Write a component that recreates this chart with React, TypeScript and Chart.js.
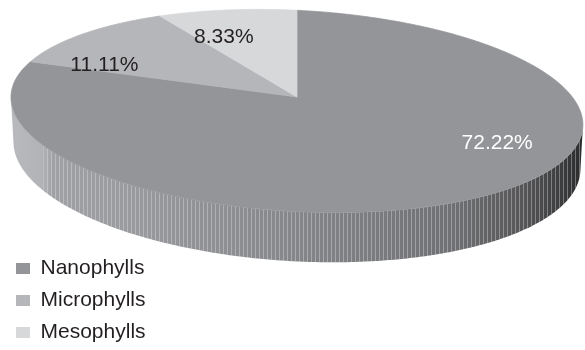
import React, { useEffect, useRef } from 'react';
import { Chart, registerables } from 'chart.js';

Chart.register(...registerables);

// ---- data ----
const categories: string[] = ['Nanophylls', 'Microphylls', 'Mesophylls'];
const percentages: number[] = [72.22, 11.11, 8.33];

// ---- styles ----
const sliceColors: string[] = ['#949598', '#b5b6b9', '#d7d8da'];
const labelColors: string[] = ['#ffffff', '#231f20', '#231f20'];
const FONT_FAMILY = '"Liberation Sans", Arial, Helvetica, sans-serif';

// 3-D view (camera) applied to the pie that Chart.js lays out
const CAMERA = {
  elevation: 20.4, // degrees the viewer looks down onto the disc
  distance: 6.76, // camera distance, in disc radii
  zoom: 1.6, // projected radius relative to Chart.js outer radius
  lift: 0.452, // apex shift upwards, relative to Chart.js outer radius
  shiftX: 0.011, // apex shift right, relative to Chart.js outer radius
  shear: 0.048, // slight tilt of the projected disc
  thickness: 0.167, // disc thickness in disc radii
};
const LABEL_NUDGE_DEG = [-24, -17, -8];
const LABEL_RADIUS = [0.76, 0.74, 0.68];

function shade(hex: string, f: number, a = 1): string {
  const n = parseInt(hex.slice(1), 16);
  const ch = (v: number) => Math.max(0, Math.min(255, Math.round(v * f)));
  return `rgba(${ch((n >> 16) & 255)},${ch((n >> 8) & 255)},${ch(n & 255)},${a})`;
}

const pie3dPlugin = {
  id: 'pie3d',
  beforeDatasetsDraw(chart: any) {
    const meta = chart.getDatasetMeta(0);
    const arcs = meta.data as any[];
    if (!arcs.length) return false;
    const ctx = chart.ctx as CanvasRenderingContext2D;
    const R: number = arcs[0].outerRadius;
    const ox: number = arcs[0].x;
    const oy: number = arcs[0].y;
    const el = (CAMERA.elevation * Math.PI) / 180;
    const s = Math.sin(el);
    const c = Math.cos(el);
    const D = CAMERA.distance;
    const base = R * CAMERA.zoom;
    const cx = ox + CAMERA.shiftX * R;
    const cy = oy - CAMERA.lift * R;
    const proj = (phi: number, r: number, Y: number): [number, number] => {
      const X = r * Math.cos(phi);
      const Z = r * Math.sin(phi);
      const v = Y * c - Z * s;
      const w = Y * s + Z * c;
      const k = (base * D) / (D - w);
      const sx = X * k;
      const sy = -v * k;
      return [cx + sx, cy + sy + CAMERA.shear * sx];
    };
    const step = Math.PI / 360;
    const H = -CAMERA.thickness;
    const vis0 = Math.asin(Math.min(1, 1 / (D * c)));
    const vis1 = Math.PI - vis0;
    const xl = proj(Math.PI, 1, 0)[0];
    const xr = proj(0, 1, 0)[0];

    ctx.save();
    // ---- side walls ----
    arcs.forEach((arc: any, i: number) => {
      const a0 = Math.max(arc.startAngle, vis0);
      const a1 = Math.min(arc.endAngle, vis1);
      if (a1 <= a0) return;
      const n = Math.max(2, Math.ceil((a1 - a0) / step));
      const pts: [number, number][] = [];
      for (let j = 0; j <= n; j++) pts.push(proj(a0 + ((a1 - a0) * j) / n, 1, 0));
      for (let j = n; j >= 0; j--) pts.push(proj(a0 + ((a1 - a0) * j) / n, 1, H));
      let minX = Infinity, maxX = -Infinity, minY = Infinity, maxY = -Infinity;
      ctx.beginPath();
      pts.forEach(([x, y], j) => {
        if (j === 0) ctx.moveTo(x, y);
        else ctx.lineTo(x, y);
        minX = Math.min(minX, x); maxX = Math.max(maxX, x);
        minY = Math.min(minY, y); maxY = Math.max(maxY, y);
      });
      ctx.closePath();
      const col = sliceColors[i % sliceColors.length];
      const g = ctx.createLinearGradient(xl, 0, xr, 0);
      g.addColorStop(0, shade(col, 1.24));
      g.addColorStop(0.05, shade(col, 1.2));
      g.addColorStop(0.07, shade(col, 1.08));
      g.addColorStop(0.2, shade(col, 1.04));
      g.addColorStop(0.5, shade(col, 0.9));
      g.addColorStop(0.77, shade(col, 0.76));
      g.addColorStop(0.9, shade(col, 0.58));
      g.addColorStop(0.97, shade(col, 0.4));
      g.addColorStop(1, shade(col, 0.3));
      ctx.save();
      ctx.fillStyle = g;
      ctx.fill();
      ctx.clip();
      const hg = ctx.createLinearGradient(xl, 0, xr, 0);
      hg.addColorStop(0, 'rgba(255,255,255,0)');
      hg.addColorStop(0.045, 'rgba(255,255,255,0)');
      hg.addColorStop(0.06, 'rgba(255,255,255,0.28)');
      hg.addColorStop(1, 'rgba(255,255,255,0.32)');
      ctx.strokeStyle = hg;
      ctx.lineWidth = 1;
      ctx.beginPath();
      for (let x = Math.floor(minX) + 0.5; x <= maxX; x += 4) {
        ctx.moveTo(x, minY);
        ctx.lineTo(x, maxY);
      }
      ctx.stroke();
      ctx.restore();
    });

    // ---- top faces ----
    const apex = proj(0, 0, 0);
    arcs.forEach((arc: any) => {
      const a0 = arc.startAngle;
      const a1 = arc.endAngle;
      const n = Math.max(2, Math.ceil((a1 - a0) / step));
      ctx.beginPath();
      ctx.moveTo(apex[0], apex[1]);
      for (let j = 0; j <= n; j++) {
        const [x, y] = proj(a0 + ((a1 - a0) * j) / n, 1, 0);
        ctx.lineTo(x, y);
      }
      ctx.closePath();
      ctx.fillStyle = arc.options.backgroundColor;
      ctx.strokeStyle = arc.options.backgroundColor;
      ctx.lineWidth = 0.75;
      ctx.lineJoin = 'round';
      ctx.fill();
      ctx.stroke();
    });

    // ---- value labels ----
    const ds = chart.data.datasets[0];
    ctx.font = `21px ${FONT_FAMILY}`;
    ctx.textAlign = 'center';
    ctx.textBaseline = 'middle';
    arcs.forEach((arc: any, i: number) => {
      const mid = (arc.startAngle + arc.endAngle) / 2 + (LABEL_NUDGE_DEG[i] * Math.PI) / 180;
      const [lx, ly] = proj(mid, LABEL_RADIUS[i], 0);
      ctx.fillStyle = labelColors[i];
      ctx.fillText(`${Number(ds.data[i]).toFixed(2)}%`, lx, ly);
    });
    ctx.restore();
    return false;
  },
};

export default function App() {
  const canvasRef = useRef<HTMLCanvasElement | null>(null);

  useEffect(() => {
    const canvas = canvasRef.current;
    if (!canvas) return;
    const chart = new Chart(canvas, {
      type: 'pie',
      data: {
        labels: categories,
        datasets: [
          {
            data: percentages,
            backgroundColor: sliceColors,
            borderWidth: 0,
            hoverOffset: 0,
            offset: 0,
          },
        ],
      },
      options: {
        responsive: false,
        animation: false,
        events: [],
        layout: { padding: { left: 5, right: 0, top: 0, bottom: 0 } },
        plugins: {
          tooltip: { enabled: false },
          legend: {
            display: true,
            position: 'chartArea',
            align: 'end',
            labels: {
              boxWidth: 14,
              boxHeight: 11,
              padding: 11,
              color: '#231f20',
              font: { family: FONT_FAMILY, size: 21 },
            },
          },
        },
      } as any,
      plugins: [pie3dPlugin as any],
    });
    return () => chart.destroy();
  }, []);

  return (
    <div
      style={{
        position: 'absolute',
        left: 0,
        top: 0,
        width: 585,
        height: 350,
        overflow: 'hidden',
        background: '#ffffff',
      }}
    >
      <canvas ref={canvasRef} width={585} height={354} style={{ display: 'block' }} />
    </div>
  );
}
